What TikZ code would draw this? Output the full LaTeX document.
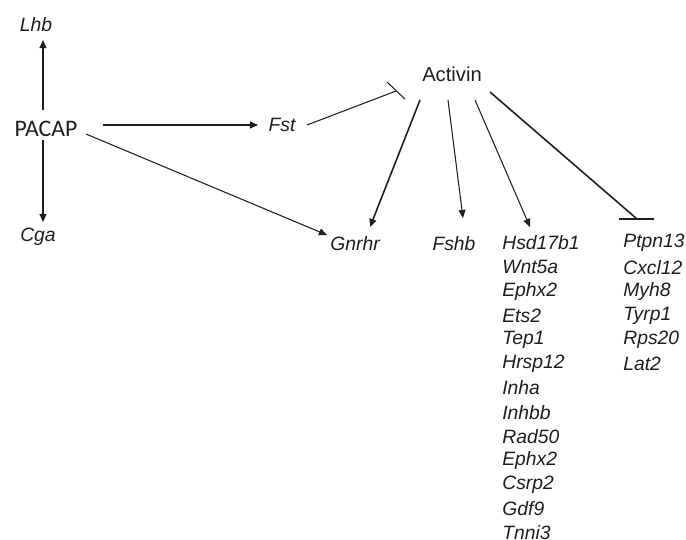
\documentclass[tikz,border=0pt]{standalone}
\usepackage{fontspec}
\setmainfont{Liberation Sans}
\newfontfamily\pacapfont{Carlito}
\usetikzlibrary{arrows.meta,positioning,calc}
\definecolor{inkGrey}{RGB}{30,30,30}

\begin{document}
\begin{tikzpicture}[x=0.02cm,y=-0.02cm,
        gene/.style={inner sep=0pt,text=inkGrey,
                     font=\fontsize{11}{13}\selectfont\itshape},
        prot/.style={inner sep=0pt,text=inkGrey,
                     font=\fontsize{11.5}{13}\selectfont},
        big/.style={inner sep=0pt,text=inkGrey,
                    font=\pacapfont\fontsize{13.5}{16}\selectfont},
        act/.style={draw=inkGrey,line width=0.6pt,
                    -{Triangle[length=4.6pt,width=4pt]}},
        actb/.style={act,line width=0.9pt},
        inh/.style={draw=inkGrey,line width=0.6pt},
        inhb/.style={inh,line width=0.9pt}]
        \useasboundingbox (0,0) rectangle (686,539);
        % regulators
        \node[big] (pacap) at (46,129) {PACAP};
        \node[gene] (lhb) at (36,25) {Lhb};
        \node[gene] (cga) at (38,237) {Cga};
        \node[gene] (fst) at (282,125) {Fst};
        \node[prot] (activin) at (452,74) {Activin};
        \node[gene] (gnrhr) at (355,244) {Gnrhr};
        \node[gene] (fshb) at (454,244) {Fshb};
        % target lists
        \foreach \g [count=\i from 0] in {Hsd17b1,Wnt5a,Ephx2,Ets2,Tep1,Hrsp12,
            Inha,Inhbb,Rad50,Ephx2,Csrp2,Gdf9,Tnni3}{
          \node[gene,anchor=west] (up\i) at (502,{243+24.17*\i}) {\g};
        }
        \foreach \g [count=\i from 0] in {Ptpn13,Cxcl12,Myh8,Tyrp1,Rps20,Lat2}{
          \node[gene,anchor=west] (dn\i) at (623,{243+24.17*\i}) {\g};
        }
        % PACAP arrows
        \draw[act] ($(pacap)+(-3,-19)$) -- ($(lhb)+(7,15)$);
        \draw[act] ($(pacap)+(-3,11)$) -- ($(cga)+(5,-15)$);
        \draw[act] ($(pacap)+(57,-4)$) -- ($(fst)+(-24,0)$);
        \draw[act] ($(pacap)+(40,5)$) -- ($(gnrhr)+(-28,-9)$);
        % Fst blocks activin
        \draw[inh] ($(fst)+(25,0)$) -- ($(activin)+(-56,17)$) coordinate (fstbar);
        \draw[inh] ($(fstbar)+(-9,-9)$) -- ($(fstbar)+(9,8)$);
        % activin targets
        \draw[actb] ($(activin)+(-32,26)$) -- ($(gnrhr)+(15,-17)$);
        \draw[act] ($(activin)+(-4,26)$) -- ($(fshb)+(9,-26)$);
        \draw[act] ($(activin)+(23,26)$) -- ($(up0.west)+(28,-16)$);
        \draw[inhb] ($(activin)+(38,18)$) -- ($(dn0.west)+(14,-24)$) coordinate (dnbar);
        \draw[inh] ($(dnbar)+(-18,0)$) -- ($(dnbar)+(17,0)$);
      \end{tikzpicture}
\end{document}
